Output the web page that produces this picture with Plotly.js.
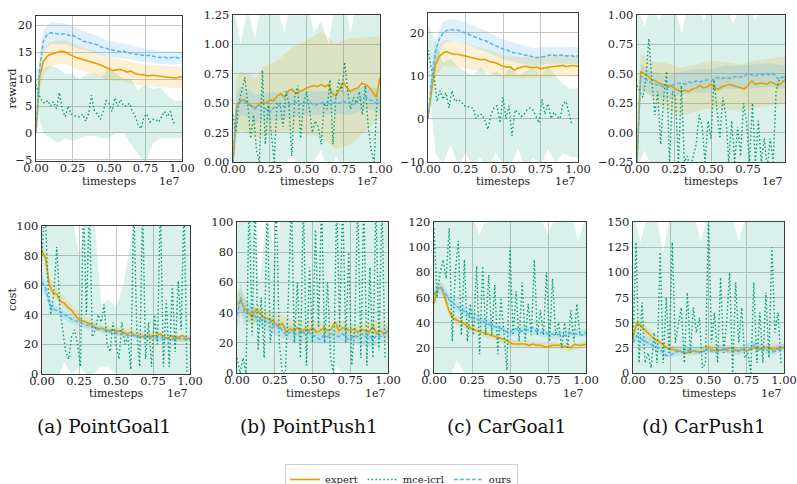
<!DOCTYPE html>
<html>
<head>
<meta charset="utf-8">
<script src="https://cdn.plot.ly/plotly-3.0.1.min.js"></script>
<style>html,body{margin:0;padding:0;background:#fff;}#chart{width:797px;height:484px;}</style>
</head>
<body>
<div id="chart"></div>
<script>
// ---------- data ----------
const XF = [0,0.025,0.05,0.075,0.1,0.125,0.15,0.175,0.2,0.225,0.25,0.275,0.3,0.325,0.35,0.375,0.4,0.425,0.45,0.475,0.5,0.525,0.55,0.575,0.6,0.625,0.65,0.675,0.7,0.725,0.75,0.775,0.8,0.825,0.85,0.875,0.9,0.925,0.95,0.975,1.0];
const XB = [0,0.025,0.05,0.1,0.15,0.2,0.3,0.4,0.5,0.6,0.7,0.8,0.9,1.0];
const XM = [0,0.02,0.04,0.06,0.08,0.1,0.12,0.14,0.16,0.18,0.2,0.22,0.24,0.26,0.28,0.3,0.32,0.34,0.36,0.38,0.4,0.42,0.44,0.46,0.48,0.5,0.52,0.54,0.56,0.58,0.6,0.62,0.64,0.66,0.68,0.7,0.72,0.74,0.76,0.78,0.8,0.82,0.84,0.86,0.88,0.9,0.92,0.94,0.96,0.98];
const XMB = [0,0.05,0.1,0.15,0.2,0.25,0.3,0.35,0.4,0.45,0.5,0.55,0.6,0.65,0.7,0.75,0.8,0.85,0.9,0.95,1.0];

const seriesNames = ['expert','mce-icrl','ours'];
const captions = ['(a) PointGoal1','(b) PointPush1','(c) CarGoal1','(d) CarPush1'];
const rowLabels = ['reward','cost'];
const xTicks = [0,0.25,0.5,0.75,1];

// (a) PointGoal1 reward
const pgRewExp = [0,10.5,13.2,14.2,14.6,14.8,15.0,15.2,15.0,14.6,14.3,14.0,13.8,13.7,13.4,13.3,13.0,12.8,12.5,12.2,11.9,11.6,11.7,11.8,11.6,11.3,11.5,11.1,10.9,10.8,10.8,10.6,10.7,10.6,10.6,10.5,10.4,10.2,10.2,10.3,10.4];
const pgRewExpSd = [0.3,2.5,2.5,2.3,2.2,2.2,2.2,2.2,2.1,2.0,2.0,2.0,2.0,2.0];
const pgRewOurs = [0,12,17,18.2,18.6,18.5,18.4,18.3,18.4,18.1,18.2,17.7,17.4,17.0,16.9,16.7,16.6,16.3,15.9,15.8,15.5,15.4,15.3,15.1,15.2,14.9,14.8,14.6,14.6,14.4,14.3,14.4,14.2,14.1,14.0,14.1,13.9,14.0,14.1,13.9,14.0];
const pgRewOursSd = [0.3,2.5,2.0,2.0,2.0,1.9,1.8,1.6,1.5,1.4,1.3,1.2,1.2,1.2];
const pgRewMce = [9,7,6,5.5,6,5,5.8,4.5,7.5,4.5,3,5,3.5,3.2,3,3,3.5,2.2,3.5,7,4,3.5,2.5,4,6,5.5,4,6.5,5,6.2,5,5,5.5,4,3,1.5,0.8,3,3.5,2,2.5,2.5,2,3,4,3,4,2,1.5,null];
const pgRewMceHi = [12,12,12.5,12,11,11,10,11,11,10.5,12,11,10,10,8,9,8,8.5,7,6,6];
const pgRewMceLo = [5,0,-1,-2,-1,-1.5,-1,-0.5,-0.5,-1,-1,0,0,-2,-4,-5.5,-2,-1,-1,-1,-1];

// (b) PointPush1 reward
const ppRewExp = [0,0.48,0.52,0.53,0.5,0.48,0.46,0.49,0.51,0.5,0.53,0.52,0.56,0.58,0.55,0.6,0.62,0.58,0.6,0.61,0.63,0.64,0.65,0.64,0.66,0.64,0.66,0.58,0.56,0.62,0.68,0.63,0.6,0.62,0.63,0.67,0.66,0.64,0.6,0.55,0.72];
const ppRewExpSd = [0.05,0.25,0.25,0.25,0.25,0.3,0.3,0.35,0.4,0.45,0.45,0.45,0.4,0.35];
const ppRewOurs = [0,0.45,0.52,0.51,0.5,0.47,0.45,0.48,0.47,0.45,0.42,0.46,0.47,0.49,0.47,0.48,0.5,0.51,0.49,0.5,0.5,0.51,0.48,0.49,0.5,0.51,0.5,0.5,0.51,0.5,0.52,0.5,0.5,0.49,0.52,0.54,0.55,0.53,0.52,0.5,0.52];
const ppRewOursSd = [0.05,0.15,0.12,0.12,0.12,0.12,0.12,0.12,0.1,0.1,0.1,0.1,0.1,0.1];
const ppRewMce = [0.4,0.25,0.5,0.6,0.72,0.5,0.2,0.4,0.1,0.0,0.78,0.15,0.5,0.25,0.0,0.5,0.5,0.3,0.6,0.5,0.05,0.55,0.65,0.2,0.5,0.6,0.45,0.25,0.35,0.3,0.15,0.5,0.45,0.7,0.15,0.55,0.7,0.6,0.85,0.6,0.45,0.55,0.5,0.6,0.4,0.65,0.3,0.1,0.0,0.55];
const ppRewMceHi = [1.4,1.0,1.3,1.05,1.4,1.4,1.3,1.1,1.4,1.4,1.4,1.1,1.2,1.0,1.4,1.4,1.1,1.4,1.4,1.4,1.4];
const ppRewMceLo = [0,-0.1,-0.1,-0.1,-0.1,0,-0.1,-0.1,0.1,-0.1,-0.1,0,0.1,-0.1,0.05,-0.1,-0.1,-0.1,-0.1,-0.1,-0.1];

// (c) CarGoal1 reward
const cgRewExp = [0,7,12.5,14.5,15.3,15.6,15.2,15.0,15.0,14.8,14.6,14.3,14.2,13.9,13.7,13.8,13.4,13.2,13.0,12.6,12.2,12.0,12.0,11.3,11.8,12.0,12.2,12.0,11.9,12.0,11.6,11.8,12.0,12.1,12.2,12.3,12.4,12.1,12.3,12.3,12.2];
const cgRewExpSd = [0.5,3,3,3,3,3,2.8,2.7,2.6,2.5,2.5,2.5,2.5,2.5];
const cgRewOurs = [0,9,15.5,18.5,20.0,20.5,20.7,20.6,20.6,20.2,20.0,19.6,19.2,18.8,18.5,18.3,17.8,17.4,17.0,16.5,16.2,16.0,15.6,15.3,15.2,15.0,14.8,14.5,14.3,14.2,14.3,14.5,14.8,14.9,14.7,14.8,14.8,14.6,14.7,14.5,14.6];
const cgRewOursSd = [0.5,3,2.8,2.6,2.5,2.5,2.5,2.4,2.3,2.2,2.1,2.0,2.0,2.0];
const cgRewMce = [16,12,10,4,6.5,4.5,6,2.5,6.5,4,4.5,4,3,3,2.5,2.5,0,1,1,-0.5,-2.5,1,2.5,3,-1,5,0,3,-4,2,1.5,0.5,1,2,2.5,2,0.5,-1,4.5,1,3.5,0,1.5,0.5,0,3.5,4,1,-1.5,null];
const cgRewMceHi = [22,18,13,14,12,11,10,12,10,11,10,12,10,11,12,10,12,10,8,7,7];
const cgRewMceLo = [10,-8,-10.5,-6,-11,-8,-11,-9,-12,-8,-10.5,-11,-7,-12,-9,-11,-7,-10.5,-8,-9,-9];

// (d) CarPush1 reward
const cpRewExp = [-0.25,0.52,0.5,0.48,0.45,0.44,0.42,0.41,0.39,0.4,0.38,0.36,0.35,0.36,0.35,0.37,0.38,0.4,0.38,0.39,0.41,0.38,0.37,0.39,0.4,0.41,0.4,0.39,0.38,0.37,0.4,0.44,0.41,0.42,0.42,0.41,0.43,0.42,0.4,0.42,0.45];
const cpRewExpSd = [0.02,0.15,0.15,0.15,0.18,0.2,0.2,0.2,0.2,0.2,0.2,0.2,0.2,0.2];
const cpRewOurs = [-0.25,0.48,0.46,0.44,0.42,0.41,0.4,0.39,0.38,0.39,0.41,0.42,0.42,0.41,0.43,0.42,0.44,0.43,0.44,0.45,0.44,0.46,0.47,0.46,0.47,0.46,0.47,0.48,0.47,0.48,0.5,0.49,0.48,0.5,0.49,0.5,0.49,0.5,0.46,0.47,0.47];
const cpRewOursSd = [0.02,0.1,0.1,0.1,0.1,0.1,0.1,0.1,0.1,0.1,0.1,0.1,0.1,0.1];
const cpRewMce = [0.4,0.35,0.3,0.45,0.8,0.45,0.15,0.35,-0.1,0.3,0.52,-0.25,0.35,0.3,-0.25,0.4,-0.25,-0.2,-0.3,-0.2,-0.1,0.15,0.05,-0.25,0.1,-0.05,0.45,0.2,-0.05,0.3,0.15,-0.25,0.1,-0.25,0.05,-0.2,0.25,0.1,-0.25,0.25,-0.25,0.1,-0.25,-0.05,-0.3,-0.05,-0.25,0.35,0.45,0.47];
const cpRewMceHi = [1.1,0.9,1.1,0.95,1.1,1.1,0.85,1.1,1.1,0.95,1.1,1.1,1.1,0.92,1.1,1.1,0.95,1.1,1.1,1.1,1.1];
const cpRewMceLo = [-0.3,-0.15,-0.3,-0.3,-0.3,-0.3,-0.3,-0.3,-0.3,-0.3,-0.3,-0.3,-0.3,-0.3,-0.3,-0.3,-0.3,-0.3,-0.3,-0.3,-0.3];

// (a) PointGoal1 cost
const pgCostExp = [83,78,60,55,54,49,48,45,43,40,36.5,36,35,34,32,30,31,30,29,30,29,29,28,27,28,26,26,25,26,25,26,26,27,25,24,26,24,25,26,24,23.5];
const pgCostExpSd = [5,5,5,4,4,3,3,3,2.5,2.5,2,2,2,2];
const pgCostOurs = [62,58,47,44,43,42,40,39,37,36,35,34,33,33,32,31,30,30,29,28,28,27,27,26,26,26,25,25,25,24,25,24,24,25,24,23,24,24,24,23,24];
const pgCostOursSd = [5,5,4,3,3,3,2.5,2,2,2,2,2,2,2];
const pgCostMce = [80,115,60,40,55,86,45,30,15,10,25,30,20,5,115,40,115,25,30,40,35,47,20,15,35,20,10,35,20,25,3,115,30,5,115,10,35,5,40,20,115,5,50,5,60,15,63,30,115,0];
const pgCostMceHi = [110,110,110,110,110,80,110,110,47,50,45,60,90,110,110,110,110,110,110,110,110];
const pgCostMceLo = [0,-5,-5,8,0,5,0,0,5,5,0,0,-5,0,0,0,0,0,0,0,0];

// (b) PointPush1 cost
const ppCostExp = [45,48,43,40,37,42,40,37,36,35,33,31,33,27,29,28,30,27,29,28,30,27,28,30,28,29,34,28,30,29,28,29,27,29,28,27,31,26,28,26,28];
const ppCostExpSd = [8,8,7,6,5,5,5,5,5,5,5,5,5,5];
const ppCostOurs = [38,50,40,42,41,37,35,36,33,34,30,32,28,25,27,26,25,28,26,27,25,24,22,25,24,26,25,24,26,23,22,25,24,26,24,25,22,25,24,26,27];
const ppCostOursSd = [10,10,8,6,5,5,5,5,5,5,5,5,5,5];
const ppCostMce = [10,0,10,0,115,25,115,15,50,10,115,20,35,115,20,0,0,50,115,20,60,10,115,5,70,20,95,30,115,20,60,10,0,115,30,115,20,80,5,30,115,10,115,5,70,10,115,15,115,10];
const ppCostMceHi = [110,110,110,60,110,75,110,110,110,110,110,110,110,110,110,110,110,110,110,110,110];
const ppCostMceLo = [0,0,0,0,0,0,5,0,0,0,0,0,0,5,0,0,0,0,0,0,0];

// (c) CarGoal1 cost
const cgCostExp = [55,67,68,58,49,44,42,41,39,37,35,34,33,32,31,30,29,28,27,26,24,23,23,23,23,22,23,22,22,21,20.5,22,22,22,21,21,20,23,22,22,23];
const cgCostExpSd = [4,4,4,4,4,3,3,3,2.5,2.5,2.5,2.5,2.5,2.5];
const cgCostOurs = [62,68,67,63,58,56,53,51,49,47,44,43,42,41,39,38,37,36,35,33,32,35,35,33,35,34,36,33,32,33,31,31,30,31,30,30,32,31,31,30,32];
const cgCostOursSd = [5,5,5,5,4,4,4,4,3,3,3,3,3,3];
const cgCostMce = [115,60,80,90,75,115,25,80,105,30,90,25,55,30,85,15,85,30,78,30,70,15,60,30,2,100,30,65,25,72,25,55,30,90,30,50,30,80,25,75,30,40,20,40,20,50,25,55,30,null];
const cgCostMceHi = [125,125,125,125,125,125,110,125,125,125,125,125,125,125,125,110,125,125,125,105,125];
const cgCostMceLo = [0,0,-5,10,0,0,0,0,0,0,0,0,0,0,0,0,0,0,0,0,0];

// (d) CarPush1 cost
const cpCostExp = [35,50,47,43,39,36,33,31,28,25,24,23,22,21,20,21,22,21,21,22,26,23,22,23,23,24,25,23,22,24,22,23,25,24,24,25,26,23,24,24,26];
const cpCostExpSd = [5,5,5,5,4,4,3,3,3,3,3,3,3,3];
const cpCostOurs = [30,37,34,32,30,28,27,24,20,17,18,20,22,21,22,23,22,21,20,22,23,21,20,22,24,22,23,21,22,23,22,24,28,22,23,24,22,21,22,24,25];
const cpCostOursSd = [5,6,6,5,5,5,5,4,4,4,4,4,4,4];
const cpCostMce = [30,130,10,70,10,20,5,40,10,120,10,75,20,130,30,50,65,10,80,20,65,40,55,5,10,160,30,60,10,95,20,50,100,0,90,30,65,15,20,0,90,10,60,10,80,15,125,40,60,10];
const cpCostMceHi = [160,130,160,160,120,160,160,160,160,130,160,160,160,160,130,160,160,160,160,160,160];
const cpCostMceLo = [0,0,0,0,0,0,0,0,0,0,0,0,0,0,0,0,0,0,0,0,0];

// ---------- layout helpers ----------
const W = 797, H = 484;
const COL = {expert:'#E69F00', mce:'#029E73', ours:'#56B4E9'};
const FILL = {expert:'rgba(230,159,0,0.17)', mce:'rgba(2,158,115,0.15)', ours:'rgba(86,180,233,0.2)'};
const FONT = 'DejaVu Serif';

const panels = [
  {exp:pgRewExp, expSd:pgRewExpSd, ours:pgRewOurs, oursSd:pgRewOursSd, mce:pgRewMce, hi:pgRewMceHi, lo:pgRewMceLo,
   box:[36,182,16,161], yr:[-5.2,21.7], yt:[-5,0,5,10,15,20], yf:''},
  {exp:ppRewExp, expSd:ppRewExpSd, ours:ppRewOurs, oursSd:ppRewOursSd, mce:ppRewMce, hi:ppRewMceHi, lo:ppRewMceLo,
   box:[233,380,15,162], yr:[0,1.25], yt:[0,0.25,0.5,0.75,1,1.25], yf:'.2f'},
  {exp:cgRewExp, expSd:cgRewExpSd, ours:cgRewOurs, oursSd:cgRewOursSd, mce:cgRewMce, hi:cgRewMceHi, lo:cgRewMceLo,
   box:[428,578,13,162], yr:[-10.1,24.6], yt:[-10,0,10,20], yf:''},
  {exp:cpRewExp, expSd:cpRewExpSd, ours:cpRewOurs, oursSd:cpRewOursSd, mce:cpRewMce, hi:cpRewMceHi, lo:cpRewMceLo,
   box:[637,785,15,162], yr:[-0.25,1.0], yt:[-0.25,0,0.25,0.5,0.75,1], yf:'.2f'},
  {exp:pgCostExp, expSd:pgCostExpSd, ours:pgCostOurs, oursSd:pgCostOursSd, mce:pgCostMce, hi:pgCostMceHi, lo:pgCostMceLo,
   box:[42,190,226,374], yr:[0,100], yt:[0,20,40,60,80,100], yf:''},
  {exp:ppCostExp, expSd:ppCostExpSd, ours:ppCostOurs, oursSd:ppCostOursSd, mce:ppCostMce, hi:ppCostMceHi, lo:ppCostMceLo,
   box:[237,388,222,373], yr:[0,100], yt:[0,20,40,60,80,100], yf:''},
  {exp:cgCostExp, expSd:cgCostExpSd, ours:cgCostOurs, oursSd:cgCostOursSd, mce:cgCostMce, hi:cgCostMceHi, lo:cgCostMceLo,
   box:[434,586,222,373], yr:[0,120], yt:[0,20,40,60,80,100,120], yf:''},
  {exp:cpCostExp, expSd:cpCostExpSd, ours:cpCostOurs, oursSd:cpCostOursSd, mce:cpCostMce, hi:cpCostMceHi, lo:cpCostMceLo,
   box:[633,784,222,373], yr:[0,150], yt:[0,25,50,75,100,125,150], yf:''}
];

function bandFromMean(mean, sd){
  const up = [], dn = [];
  XB.forEach((x,k)=>{ const i = XF.indexOf(x); up.push(mean[i]+sd[k]); dn.push(mean[i]-sd[k]); });
  return {x: XB.concat(XB.slice().reverse()), y: up.concat(dn.slice().reverse())};
}
function bandFromLimits(hi, lo){
  return {x: XMB.concat(XMB.slice().reverse()), y: hi.concat(lo.slice().reverse())};
}

const traces = [];
const layout = {
  width: W, height: H,
  margin: {l:0, r:0, t:0, b:0, autoexpand:false},
  paper_bgcolor: '#fff', plot_bgcolor: '#fff',
  showlegend: true,
  legend: {orientation:'h', x: 401.5/W, xanchor:'center', y: 1-464/H, yanchor:'top',
           bordercolor:'#d0d0d0', borderwidth:1, bgcolor:'#fff',
           font:{family:FONT, size:10, color:'#222'}, tracegroupgap:0},
  annotations: []
};

panels.forEach((p, n)=>{
  const k = n+1;
  const xa = 'x'+(k===1?'':k), ya = 'y'+(k===1?'':k);
  const [l,r,t,b] = p.box;
  const common = {
    showgrid:true, gridcolor:'#c6c6c6', gridwidth:1,
    showline:true, mirror:true, linecolor:'#3a3a3a', linewidth:1.4,
    ticks:'', zeroline:false, fixedrange:true,
    tickfont:{family:FONT, size:11.5, color:'#222'}
  };
  layout['xaxis'+(k===1?'':k)] = Object.assign({}, common, {
    domain:[l/W, r/W], range:[0,1], tickvals:xTicks, tickformat:'.2f', anchor: ya, ticklabelstandoff:-4
  });
  layout['yaxis'+(k===1?'':k)] = Object.assign({}, common, {
    domain:[1-b/H, 1-t/H], range:p.yr, tickvals:p.yt, tickformat:p.yf, anchor: xa
  });

  const bm = bandFromLimits(p.hi, p.lo);
  traces.push({type:'scatter', mode:'lines', x:bm.x, y:bm.y, xaxis:xa, yaxis:ya, fill:'toself',
    fillcolor:FILL.mce, line:{width:0, color:FILL.mce}, hoverinfo:'skip', showlegend:false});
  const be = bandFromMean(p.exp, p.expSd);
  traces.push({type:'scatter', mode:'lines', x:be.x, y:be.y, xaxis:xa, yaxis:ya, fill:'toself',
    fillcolor:FILL.expert, line:{width:0, color:FILL.expert}, hoverinfo:'skip', showlegend:false});
  const bo = bandFromMean(p.ours, p.oursSd);
  traces.push({type:'scatter', mode:'lines', x:bo.x, y:bo.y, xaxis:xa, yaxis:ya, fill:'toself',
    fillcolor:FILL.ours, line:{width:0, color:FILL.ours}, hoverinfo:'skip', showlegend:false});

  traces.push({type:'scatter', mode:'lines', name:seriesNames[0], legendgroup:'e', showlegend:k===1,
    x:XF, y:p.exp, xaxis:xa, yaxis:ya, line:{color:COL.expert, width:1.6}});
  traces.push({type:'scatter', mode:'lines', name:seriesNames[1], legendgroup:'m', showlegend:k===1,
    x:XM, y:p.mce, xaxis:xa, yaxis:ya, connectgaps:false, line:{color:COL.mce, width:1.4, dash:'1.5px,2.4px'}});
  traces.push({type:'scatter', mode:'lines', name:seriesNames[2], legendgroup:'o', showlegend:k===1,
    x:XF, y:p.ours, xaxis:xa, yaxis:ya, line:{color:COL.ours, width:1.5, dash:'4px,2px'}});

  const labY = n < 4 ? 181 : 393;
  layout.annotations.push({xref:'paper', yref:'paper', x:(l+r)/2/W, y:1-labY/H, text:'timesteps',
    showarrow:false, xanchor:'center', yanchor:'middle', font:{family:FONT, size:11, color:'#222'}});
  layout.annotations.push({xref:'paper', yref:'paper', x:r/W, y:1-labY/H, text:'1e7',
    showarrow:false, xanchor:'right', yanchor:'middle', font:{family:FONT, size:11, color:'#222'}});
});

layout.annotations.push({xref:'paper', yref:'paper', x:12/W, y:1-88.5/H, text:rowLabels[0], textangle:-90,
  showarrow:false, xanchor:'center', yanchor:'middle', font:{family:FONT, size:11, color:'#222'}});
layout.annotations.push({xref:'paper', yref:'paper', x:12/W, y:1-300/H, text:rowLabels[1], textangle:-90,
  showarrow:false, xanchor:'center', yanchor:'middle', font:{family:FONT, size:11, color:'#222'}});

const capX = [104, 309, 506, 704];
captions.forEach((c,i)=>{
  layout.annotations.push({xref:'paper', yref:'paper', x:capX[i]/W, y:1-426/H, text:c,
    showarrow:false, xanchor:'center', yanchor:'middle', font:{family:FONT, size:18.5, color:'#111'}});
});

Plotly.newPlot('chart', traces, layout, {staticPlot:true, displayModeBar:false});
</script>
</body>
</html>
